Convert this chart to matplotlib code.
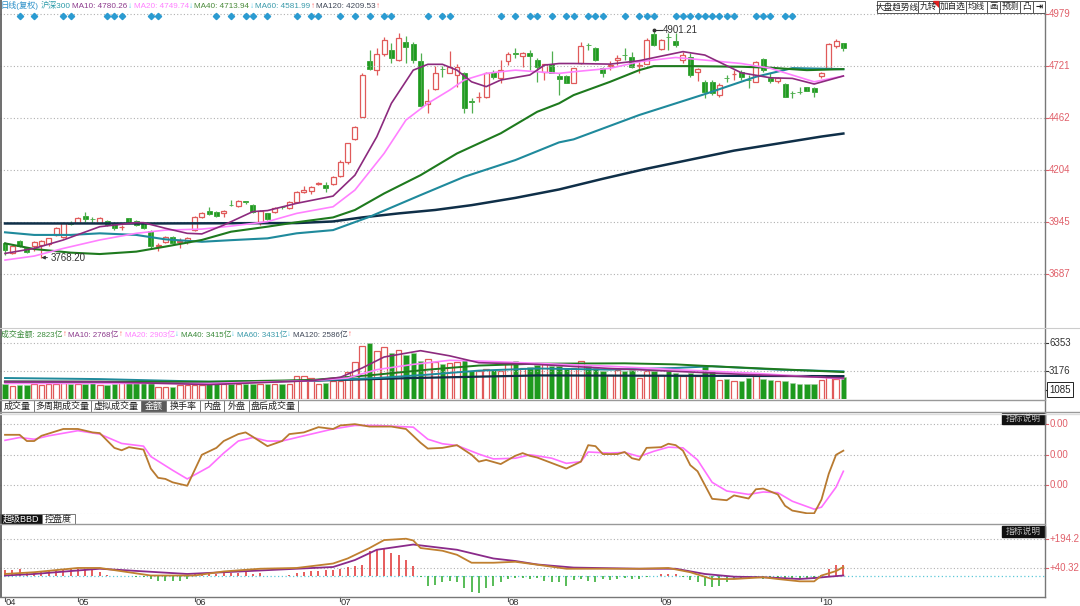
import numpy as np
import matplotlib
matplotlib.use("Agg")
import matplotlib.pyplot as plt
from matplotlib.patches import Rectangle, Polygon

plt.rcParams['font.family'] = ['Liberation Sans', 'Noto Sans CJK SC', 'DejaVu Sans']

W, H = 1080, 606

# ---- daily candles (沪深300) ----
opens = [3843, 3793, 3851, 3818, 3828, 3831, 3836, 3881, 3869, 3940,
         3942, 3975, 3960, 3942, 3950, 3939, 3920, 3963, 3952, 3939,
         3902, 3826, 3847, 3872, 3847, 3844, 3905, 3968, 4002, 3997,
         3988, 4030, 4026, 4048, 4030, 3939, 3988, 3997, 4020, 4013,
         4046, 4096, 4099, 4135, 4129, 4134, 4174, 4241, 4357, 4468,
         4745, 4700, 4778, 4800, 4750, 4841, 4828, 4745, 4530, 4604,
         4706, 4687, 4676, 4684, 4545, 4566, 4565, 4692, 4659, 4743,
         4783, 4770, 4783, 4750, 4692, 4733, 4671, 4671, 4637, 4734,
         4826, 4811, 4709, 4723, 4750, 4777, 4767, 4720, 4733, 4879,
         4803, 4865, 4846, 4750, 4763, 4692, 4642, 4642, 4576, 4660,
         4680, 4692, 4651, 4642, 4753, 4659, 4646, 4629, 4586, 4593,
         4614, 4613, 4671, 4709, 4820, 4836]
highs = [3848, 3831, 3856, 3823, 3850, 3856, 3868, 3922, 3945, 3948,
         3968, 3996, 3972, 3972, 3955, 3944, 3930, 3967, 3957, 3944,
         3906, 3840, 3876, 3876, 3864, 3872, 3976, 3993, 4018, 4002,
         4005, 4055, 4055, 4052, 4035, 4005, 3992, 4018, 4025, 4048,
         4100, 4124, 4124, 4146, 4146, 4174, 4253, 4340, 4424, 4686,
         4800, 4808, 4863, 4833, 4883, 4870, 4841, 4783, 4606, 4720,
         4720, 4795, 4733, 4692, 4560, 4593, 4692, 4700, 4750, 4792,
         4808, 4792, 4800, 4758, 4733, 4797, 4684, 4676, 4712, 4841,
         4833, 4814, 4717, 4745, 4775, 4808, 4792, 4742, 4858, 4901.21,
         4853, 4883, 4883, 4792, 4783, 4709, 4651, 4651, 4634, 4676,
         4700, 4700, 4676, 4747, 4758, 4684, 4667, 4634, 4598, 4618,
         4618, 4618, 4692, 4833, 4853, 4836]
lows = [3781, 3786, 3823, 3790, 3800, 3768.20, 3828, 3875, 3866, 3930,
        3938, 3947, 3938, 3938, 3926, 3905, 3905, 3942, 3925, 3910,
        3814, 3803, 3840, 3836, 3814, 3838, 3900, 3964, 3980, 3970,
        3972, 4025, 4020, 4035, 3988, 3930, 3954, 3990, 4012, 4010,
        4042, 4090, 4084, 4130, 4096, 4130, 4170, 4236, 4354, 4465,
        4700, 4676, 4770, 4737, 4747, 4737, 4734, 4518, 4488, 4601,
        4667, 4684, 4618, 4485, 4488, 4543, 4560, 4655, 4634, 4725,
        4758, 4717, 4700, 4642, 4651, 4684, 4576, 4634, 4634, 4730,
        4800, 4745, 4667, 4700, 4725, 4750, 4709, 4684, 4730, 4820,
        4800, 4800, 4816, 4734, 4667, 4647, 4560, 4576, 4568, 4642,
        4651, 4651, 4609, 4639, 4692, 4634, 4634, 4565, 4560, 4581,
        4594, 4568, 4659, 4705, 4808, 4797]
closes = [3806, 3826, 3828, 3798, 3844, 3851, 3864, 3914, 3939, 3937,
          3963, 3958, 3958, 3967, 3930, 3914, 3922, 3947, 3930, 3914,
          3826, 3832, 3872, 3842, 3852, 3867, 3972, 3988, 3985, 3975,
          4002, 4028, 4050, 4046, 3993, 4002, 3958, 4013, 4018, 4043,
          4096, 4104, 4121, 4138, 4113, 4167, 4245, 4336, 4419, 4676,
          4704, 4778, 4850, 4758, 4858, 4813, 4750, 4522, 4546, 4684,
          4704, 4717, 4717, 4510, 4543, 4568, 4684, 4664, 4700, 4780,
          4780, 4783, 4770, 4714, 4730, 4687, 4654, 4637, 4709, 4820,
          4823, 4750, 4687, 4725, 4762, 4775, 4717, 4728, 4850, 4825,
          4850, 4863, 4825, 4775, 4676, 4704, 4593, 4588, 4626, 4659,
          4681, 4667, 4650, 4742, 4700, 4646, 4659, 4568, 4584, 4591,
          4598, 4593, 4687, 4830, 4845, 4811]

# moving averages of price, sampled at (candle index, value)
ma10_idx = [0, 4, 8, 13, 18, 19, 22, 25, 27, 30, 34, 36, 40, 45, 48, 51, 53, 56, 58,
            60, 62, 64, 66, 68, 72, 74, 76, 78, 83, 87, 93, 96, 101, 105, 108, 111, 115]
ma10_val = [3789, 3814, 3856, 3922, 3942, 3942, 3914, 3889, 3886, 3930, 3997, 4002, 4038,
            4074, 4178, 4369, 4535, 4700, 4729, 4729, 4700, 4642, 4618, 4651, 4676, 4725,
            4733, 4733, 4730, 4747, 4792, 4775, 4687, 4662, 4659, 4631, 4671]
ma20_idx = [0, 4, 8, 13, 18, 22, 27, 31, 36, 40, 45, 48, 52, 55, 58, 61, 63, 66, 70, 73,
            76, 78, 83, 87, 92, 96, 101, 105, 111, 115]
ma20_val = [3756, 3776, 3814, 3856, 3889, 3905, 3910, 3925, 3947, 3988, 4021, 4104, 4286,
            4452, 4535, 4601, 4651, 4684, 4700, 4692, 4684, 4692, 4709, 4742, 4763, 4750,
            4733, 4709, 4642, 4671]
ma40_idx = [0, 4, 9, 13, 18, 22, 27, 31, 36, 40, 45, 48, 52, 57, 62, 68, 73, 76, 78, 83,
            87, 89, 94, 101, 105, 110, 115]
ma40_val = [3839, 3811, 3793, 3786, 3798, 3823, 3856, 3897, 3922, 3944, 3968, 4005, 4087,
            4178, 4286, 4386, 4493, 4535, 4576, 4642, 4700, 4720, 4720, 4717, 4712, 4700, 4705]
ma60_idx = [0, 4, 9, 13, 18, 22, 27, 31, 36, 40, 45, 50, 57, 63, 70, 76, 78, 87, 96, 103,
            108, 115]
ma60_val = [3894, 3881, 3881, 3889, 3881, 3859, 3847, 3855, 3864, 3889, 3905, 3971, 4079,
            4170, 4253, 4341, 4356, 4477, 4581, 4667, 4710, 4705]
ma120_idx = [0, 20, 40, 45, 49, 54, 59, 64, 70, 76, 82, 88, 94, 100, 106, 112, 115]
ma120_val = [3938, 3938, 3940, 3948, 3968, 3988, 4005, 4029, 4065, 4107, 4160, 4210, 4255,
             4300, 4335, 4370, 4385]

signal_idx = [2, 4, 8, 9, 14, 15, 16, 20, 21, 29, 31, 33, 34, 36, 40, 42, 43, 46, 48, 50,
              52, 53, 58, 60, 61, 68, 70, 72, 73, 75, 77, 78, 80, 81, 82, 85, 87, 88, 89,
              92, 93, 94, 95, 96, 97, 98, 99, 100, 103, 104, 105, 107, 108]

price_ticks = [4979, 4721, 4462, 4204, 3945, 3687]

# ---- turnover (亿) ----
amount = [1707, 1480, 1595, 1595, 1707, 1595, 1707, 1707, 1780, 1707,
          1707, 1707, 1780, 1595, 1595, 1707, 1976, 1900, 1900, 1900,
          1860, 1404, 1404, 1404, 1595, 1595, 1595, 1595, 1707, 1707,
          1707, 1707, 1707, 1707, 1707, 1707, 1707, 1707, 1707, 1707,
          2640, 2640, 2380, 1750, 1800, 2000, 2100, 3066, 4190, 6040,
          6353, 5460, 5850, 5200, 5535, 5000, 5200, 4300, 4525, 4190,
          4000, 4110, 4190, 4380, 3220, 3220, 3414, 3300, 3220, 4110,
          4300, 3500, 3600, 3800, 3920, 3710, 3710, 3520, 3520, 4300,
          3710, 3520, 3140, 2770, 3330, 3140, 3330, 2390, 3140, 3140,
          2770, 3140, 2960, 2580, 2960, 2580, 3710, 3140, 2200, 2270,
          2030, 2030, 2390, 2960, 2270, 2200, 2030, 2030, 1880, 1770,
          1770, 1770, 2200, 2470, 2300, 2500]
vma10_idx = [0, 13, 28, 42, 46, 49, 52, 57, 61, 65, 70, 73, 83, 92, 102, 115]
vma10_val = [1976, 1976, 1650, 2090, 2470, 3520, 4750, 5460, 4880, 4110, 4000, 3920, 3460,
             3140, 2770, 2400]
vma20_idx = [0, 28, 42, 47, 51, 56, 61, 65, 73, 83, 92, 102, 115]
vma20_val = [1780, 1780, 2090, 2390, 3330, 3920, 4380, 4300, 4040, 3710, 3330, 2960, 2300]
vma40_idx = [0, 28, 42, 51, 58, 65, 73, 85, 92, 97, 115]
vma40_val = [1976, 1976, 2160, 2770, 3330, 3790, 4000, 4040, 3920, 3710, 3060]
vma60_idx = [0, 13, 28, 42, 51, 58, 65, 73, 83, 92, 97, 106, 115]
vma60_val = [2390, 2270, 1976, 2090, 2390, 2770, 3220, 3460, 3330, 3520, 3710, 3330, 3140]
vma120_idx = [0, 28, 42, 56, 73, 115]
vma120_val = [1976, 1900, 2090, 2390, 2680, 2600]
amount_ticks = [6353, 3176]
amount_box_tick = 1085

# ---- middle indicator (axis labels all 0.00) ----
ind_fast_idx = [0, 2, 3, 4, 5, 8, 10, 12, 13, 15, 16, 17, 19, 20, 21, 22, 23, 25, 26, 27,
                29, 30, 32, 33, 34, 36, 38, 39, 41, 43, 45, 46, 48, 50, 53, 55, 57, 58, 60,
                62, 64, 65, 66, 68, 70, 71, 72, 73, 77, 79, 80, 81, 82, 84, 85, 86, 87, 88,
                90, 91, 92, 93, 94, 95, 97, 99, 100, 102, 103, 104, 106, 107, 108, 110, 111,
                112, 113, 114, 115]
ind_fast_val = [69.7, 69.7, 63.5, 63.5, 68.7, 75.5, 75.5, 72.1, 71.4, 56.7, 54.3, 57.4, 55.0,
                36.1, 26.9, 25.8, 22.4, 19.0, 34.4, 49.8, 56.7, 63.5, 70.4, 72.1, 67.7, 58.4,
                63.5, 70.4, 72.1, 77.3, 75.5, 79.0, 80.3, 77.9, 77.9, 75.5, 61.8, 56.0, 56.7,
                59.4, 49.8, 43.0, 44.7, 40.6, 48.8, 51.5, 48.8, 47.1, 36.1, 43.0, 59.4, 58.4,
                50.5, 50.5, 52.6, 46.4, 44.7, 56.7, 57.4, 60.8, 59.4, 53.9, 39.5, 33.4, 6.0,
                4.6, 9.4, 6.3, 15.5, 16.2, 10.4, -0.9, -5.7, -8.4, -8.4, 5.3, 31.0, 49.8, 53.9]
ind_slow_idx = [0, 2, 4, 6, 10, 13, 16, 19, 20, 23, 25, 28, 30, 32, 34, 36, 38, 41, 45, 48,
                51, 56, 58, 60, 62, 65, 67, 70, 72, 73, 75, 77, 79, 80, 83, 85, 87, 89, 91,
                93, 95, 97, 99, 102, 104, 106, 108, 111, 112, 114, 115]
ind_slow_val = [64.2, 67.0, 65.3, 68.7, 73.8, 70.4, 61.1, 58.4, 48.1, 34.4, 25.8, 37.8, 51.5,
                63.5, 67.0, 63.5, 63.5, 68.7, 75.5, 79.0, 79.0, 77.3, 65.3, 60.8, 59.1, 50.5,
                45.7, 46.4, 49.8, 48.8, 46.4, 41.3, 43.0, 52.6, 51.5, 52.2, 48.1, 53.3, 57.4,
                56.7, 44.7, 22.4, 13.8, 10.4, 12.8, 12.1, 3.6, -4.3, -2.3, 17.6, 33.4]
ind_grid = [80, 50, 20]

# ---- 超级BBD ----
bbd_bar = [35, 30, 38, 20, 15, 20, 25, 30, 35, 40, 40, 38, 30, 20, 8, 3, 2, 3, -4, -6,
           -14, -26, -26, -24, -22, -14, 10, 15, 18, 12, 20, 18, 15, 20, 12, 15, 3, 2, 3, 5,
           15, 20, 25, 28, 30, 32, 39, 48, 53, 57, 131, 137, 141, 118, 108, 84, 53, -5, -50, -45,
           -32, -26, -32, -58, -79, -85, -58, -48, -32, -14, -10, -10, -14, -8, -26, -30, -32, -50, -20, -14,
           -26, -30, -14, -20, -14, -10, -14, -12, -5, 3, 12, 12, 10, -3, -20, -32, -48, -55, -48, -32,
           -14, -14, -12, -10, -14, -14, -10, -14, -14, -14, -10, -12, 5, 39, 57, 57]
bbd_a_idx = [0, 4, 10, 13, 20, 26, 30, 35, 40, 45, 47, 50, 52, 55, 56, 57, 60, 62, 64, 67,
             70, 73, 77, 87, 91, 94, 97, 100, 104, 106, 109, 111, 112, 114, 115]
bbd_a_val = [12, 21, 43, 43, 4, 4, 25, 39, 43, 66, 92, 146, 187, 194, 185, 146, 132, 111, 70,
             70, 75, 60, 39, 39, 43, 21, -14, -14, -5, -14, -26, -26, 4, 27, 48]
bbd_b_idx = [0, 4, 13, 25, 35, 45, 48, 51, 56, 62, 67, 70, 73, 78, 87, 92, 96, 100, 104,
             109, 111, 113, 115]
bbd_b_val = [4, 12, 39, 12, 30, 48, 84, 137, 164, 137, 92, 79, 61, 45, 39, 39, 12, -2, -5,
             -14, -9, -2, 4]
bbd_ticks = [194.2, 40.32]

month_first = [0, 10, 26, 46, 69, 90, 112]
month_labels = ['04', '05', '06', '07', '08', '09', '10']

RED = '#e05a5a'
GREEN = '#1e9a1e'
GRID = '#b0b0b0'
XMIN, XMAX = -0.686, 142.66

fig = plt.figure(figsize=(W / 100, H / 100), dpi=100)
fig.patch.set_facecolor('white')


def box(x0, y0, x1, y1):
    a = fig.add_axes([x0 / W, 1 - y1 / H, (x1 - x0) / W, (y1 - y0) / H])
    a.set_xlim(XMIN, XMAX)
    a.axis('off')
    return a


def right_label(a, v, s, color, boxed=False):
    tr = a.get_yaxis_transform()
    a.plot([1.0, 1.003], [v, v], transform=tr, color=color, lw=0.8, clip_on=False)
    kw = dict(transform=tr, fontsize=7, color=color, va='center', ha='left', clip_on=False)
    if boxed:
        kw['bbox'] = dict(boxstyle='square,pad=0.25', fc='white', ec='#222222', lw=0.7)
    a.text(1.004, v, s, **kw)


# ---------- main price panel ----------
ax = box(0, 12, 1045, 327)
ax.set_ylim(3423.4, 4989)
for p in price_ticks:
    ax.axhline(p, color=GRID, lw=0.8, ls=(0, (1, 2)))
    right_label(ax, p, str(p), '#e0606a')

o = np.array(opens); h = np.array(highs); l = np.array(lows); c = np.array(closes)
idx = np.arange(len(o))
up = c >= o
top = np.maximum(o, c); bot = np.minimum(o, c)
body = np.maximum(top - bot, 2.5)
ax.vlines(idx[up], top[up], h[up], color=RED, lw=0.9)
ax.vlines(idx[up], l[up], bot[up], color=RED, lw=0.9)
ax.vlines(idx[~up], l[~up], h[~up], color='#4fae4f', lw=0.9)
ax.bar(idx[up], body[up], bottom=bot[up], width=0.68, facecolor='white', edgecolor=RED, lw=0.9)
ax.bar(idx[~up], body[~up], bottom=bot[~up], width=0.68, color=GREEN, edgecolor=GREEN, lw=0.5)

ax.plot(ma120_idx, ma120_val, color='#0f2f48', lw=1.8)
ax.plot(ma60_idx, ma60_val, color='#1f8a9c', lw=1.5)
ax.plot(ma40_idx, ma40_val, color='#1e7a1e', lw=1.5)
ax.plot(ma20_idx, ma20_val, color='#ff80ff', lw=1.2)
ax.plot(ma10_idx, ma10_val, color='#8c2a7e', lw=1.2)

ax.plot(signal_idx, [4969] * len(signal_idx), ls='', marker='D', ms=3.2, color='#2b9bd1')

lo_i = int(np.argmin(l)); hi_i = int(np.argmax(h))
ax.annotate(f'{l[lo_i]:.2f}', xy=(lo_i, l[lo_i]), xytext=(lo_i + 1.2, l[lo_i]),
            fontsize=7, color='#333333', va='center',
            arrowprops=dict(arrowstyle='-|>', color='#333333', lw=0.7, shrinkA=0, shrinkB=0,
                            mutation_scale=5))
ax.plot([hi_i, hi_i + 1.1], [h[hi_i], h[hi_i]], color='#333333', lw=0.8, marker='o', ms=1.8,
        markevery=[0])
ax.text(hi_i + 1.2, h[hi_i], f'{h[hi_i]:.2f}', fontsize=7, color='#333333', va='center')

# ---------- turnover panel ----------
axv = box(0, 328, 1045, 399.3)
axv.set_ylim(0, 8007)
for v in amount_ticks:
    axv.axhline(v, color=GRID, lw=0.8, ls=(0, (1, 2)))
    right_label(axv, v, str(v), '#333333')
right_label(axv, amount_box_tick, str(amount_box_tick), '#222222', boxed=True)
amt = np.array(amount)
axv.bar(idx[up], amt[up], width=0.75, facecolor='white', edgecolor=RED, lw=0.9)
axv.bar(idx[~up], amt[~up], width=0.75, color=GREEN, edgecolor='#9fcf9f', lw=0.4)
axv.plot(vma120_idx, vma120_val, color='#0f2f48', lw=1.6)
axv.plot(vma60_idx, vma60_val, color='#1f8a9c', lw=1.4)
axv.plot(vma40_idx, vma40_val, color='#1e7a1e', lw=1.4)
axv.plot(vma20_idx, vma20_val, color='#ff80ff', lw=1.2)
axv.plot(vma10_idx, vma10_val, color='#8c2a7e', lw=1.2)

# ---------- middle indicator ----------
axm = box(0, 414, 1045, 514)
axm.set_ylim(-9.1, 90.4)
for v in ind_grid:
    axm.axhline(v, color=GRID, lw=0.8, ls=(0, (1, 2)))
    right_label(axm, v, '0.00', '#e0606a')
axm.axhline(-9.1, color=GRID, lw=0.8, ls=(0, (1, 2)))
axm.plot(ind_slow_idx, ind_slow_val, color='#ff70ff', lw=1.2)
axm.plot(ind_fast_idx, ind_fast_val, color='#b87a30', lw=1.3)

# ---------- BBD panel ----------
axb = box(0, 524, 1045, 597)
axb.set_ylim(-106.9, 270)
for v in bbd_ticks:
    axb.axhline(v, color=GRID, lw=0.8, ls=(0, (1, 2)))
    right_label(axb, v, f'+{v:g}', '#e0606a')
axb.axhline(0, color='#5cc8d8', lw=0.9, ls=(0, (1, 2)))
bb = np.array(bbd_bar)
axb.vlines(idx[bb > 0], 0, bb[bb > 0], color='#e03030', lw=1.1)
axb.vlines(idx[bb <= 0], 0, bb[bb <= 0], color='#2aaa2a', lw=1.1)
axb.plot(bbd_b_idx, bbd_b_val, color='#8a2a8a', lw=1.3)
axb.plot(bbd_a_idx, bbd_a_val, color='#c08030', lw=1.3)

xtr = axb.get_xaxis_transform()
for i, s in zip(month_first, month_labels):
    axb.plot([i, i], [0, -0.06], transform=xtr, color='#555555', lw=0.8, clip_on=False)
    axb.text(i + 0.1, -0.07, s, transform=xtr, fontsize=6.8, color='#333333',
             ha='left', va='center', clip_on=False)

# ---------- chrome (pixel coords) ----------
ui = fig.add_axes([0, 0, 1, 1])
ui.set_xlim(0, W); ui.set_ylim(H, 0); ui.axis('off'); ui.patch.set_visible(False)

ui.plot([1045, 1045], [12, 597], color='#777777', lw=1.0)
ui.plot([0.7, 0.7], [0, 597], color='#555555', lw=1.2)
ui.plot([0, 1080], [327.5, 327.5], color='#cccccc', lw=0.8)
ui.plot([0, 1045], [399.5, 399.5], color='#999999', lw=1.0)
ui.plot([0, 1080], [411.8, 411.8], color='#999999', lw=1.0)
ui.plot([0, 1080], [413.5, 413.5], color='#dddddd', lw=1.0)
ui.plot([0, 1045], [524, 524], color='#999999', lw=1.0)
ui.plot([0, 1045], [597, 597], color='#777777', lw=1.0)


def tab(x0, x1, y0, y1, s, sel=False, fc_sel='#5a5a5a', fs=6.5):
    ui.add_patch(Rectangle((x0, y0), x1 - x0, y1 - y0, fc=fc_sel if sel else 'white',
                           ec='#777777', lw=0.7))
    ui.text((x0 + x1) / 2, (y0 + y1) / 2 + 0.3, s, fontsize=fs, ha='center', va='center',
            color='white' if sel else '#222222')


tabs1 = ['成交量', '多周期成交量', '虚拟成交量', '金额', '换手率', '内盘', '外盘', '盘后成交量']
tabs1_w = [34, 57, 50, 25, 34, 24, 25, 49]
x = 0
for s, w in zip(tabs1, tabs1_w):
    tab(x, x + w, 400, 411.5, s, sel=(s == '金额'))
    x += w
tab(0, 42, 514, 524, '超级BBD', sel=True, fc_sel='#111111')
tab(42, 75, 514, 524, '控盘度')

for y0 in (412.5, 525.5):
    ui.add_patch(Rectangle((1002, y0), 43, 11, fc='#111111', ec='#111111'))
    ui.text(1023.5, y0 + 5.8, '指标说明', fontsize=6.3, color='#bbbbbb', ha='center', va='center')

tools = ['大盘趋势线', '九转', '加自选', '均线', '画', '预测', '凸', '⇥']
tools_w = [41.5, 21, 26.5, 21, 13.5, 20, 13, 12]
x = 876.5
for s, w in zip(tools, tools_w):
    ui.add_patch(Rectangle((x, 0.5), w, 12, fc='white', ec='#555555', lw=0.7))
    ui.text(x + w / 2, 6.8, s, fontsize=6.2, ha='center', va='center', color='#222222',
            fontweight='bold' if s == '⇥' else 'normal')
    if s == '九转':
        ui.add_patch(Polygon([(x + w - 6, 0.5), (x + w, 0.5), (x + w, 6.5)], color='#e02020'))
    x += w

fig.canvas.draw()
rend = fig.canvas.get_renderer()

UP, DN = '#ff6060', '#55c8e8'


def group_width(parts, fs):
    w = 0
    for s, col in parts:
        t = ui.text(0, 0, s, fontsize=fs)
        w += t.get_window_extent(rend).width
        t.remove()
    return w


def legend_row(y, groups, x0, x1, fs=7.0):
    # groups are drawn left to right; each one is a run of (text, colour) pieces
    while True:
        widths = [group_width(g, fs) for g in groups]
        if sum(widths) + 1.5 * (len(groups) - 1) <= x1 - x0 or fs < 4.5:
            break
        fs -= 0.1
    gap = (x1 - x0 - sum(widths)) / (len(groups) - 1)
    x = x0
    for g, w in zip(groups, widths):
        xx = x
        for s, col in g:
            t = ui.text(xx, y, s, color=col, fontsize=fs, va='center', ha='left')
            xx += t.get_window_extent(rend).width
        x += w + gap


legend_row(6, [[('日线(复权)', '#2a8fc8')], [('沪深300', '#2a9aa8')],
               [('MA10: 4780.26', '#8c3a8c'), ('↓', DN)],
               [('MA20: 4749.74', '#ff80ff'), ('↓', DN)],
               [('MA40: 4713.94', '#4a8a3a'), ('↓', DN)],
               [('MA60: 4581.99', '#3a9aaa'), ('↑', UP)],
               [('MA120: 4209.53', '#404858'), ('↑', UP)]], 1, 380)
legend_row(335, [[('成交金额: 2823亿', '#3a8a3a'), ('↑', UP)],
                 [('MA10: 2768亿', '#8c3a8c'), ('↑', UP)],
                 [('MA20: 2903亿', '#ff80ff'), ('↓', DN)],
                 [('MA40: 3415亿', '#3a8a3a'), ('↓', DN)],
                 [('MA60: 3431亿', '#3a9aaa'), ('↓', DN)],
                 [('MA120: 2586亿', '#404858'), ('↑', UP)]], 1, 352)

fig.savefig('out.png', dpi=100, facecolor='white')
